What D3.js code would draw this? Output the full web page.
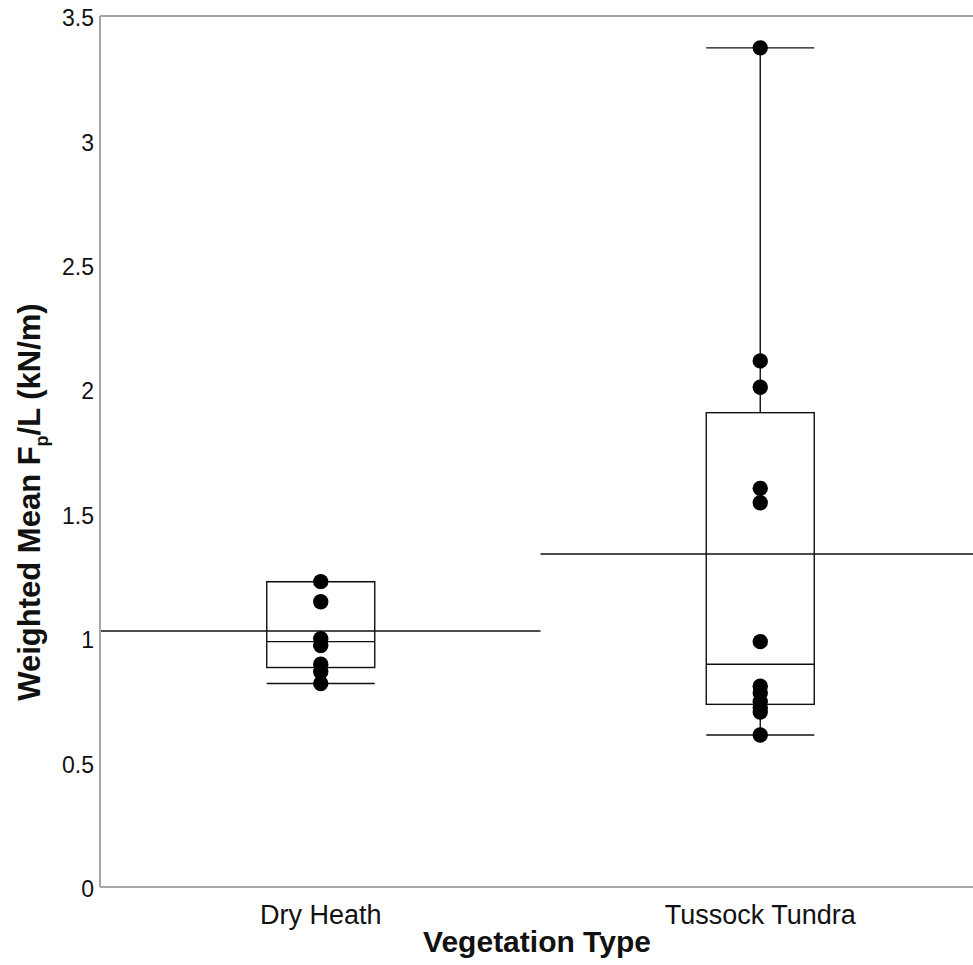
<!DOCTYPE html>
<html>
<head>
<meta charset="utf-8">
<script src="https://cdn.jsdelivr.net/npm/d3@7"></script>
<style>
  body { margin: 0; background: #fff; }
  svg { display: block; font-family: "Liberation Sans", Arial, Helvetica, sans-serif; }
</style>
</head>
<body>
<svg id="canvas" width="973" height="965"></svg>
<script>
// values
let categories = ["Dry Heath", "Tussock Tundra"]
let dryHeathPoints = [1.227, 1.146, 0.998, 0.970, 0.895, 0.865, 0.818]
let tussockPoints = [3.372, 2.114, 2.008, 1.602, 1.544, 0.986, 0.807, 0.780, 0.745, 0.720, 0.703, 0.611]
// box stats per category: [lower whisker, q1, median, q3, upper whisker]
let boxStats = [
    [0.818, 0.882, 0.986, 1.227, 1.227],
    [0.611, 0.734, 0.895, 1.906, 3.372]
]
let groupMeans = [1.029, 1.338]
let yTicks = [0, 0.5, 1, 1.5, 2, 2.5, 3, 3.5]

let canvas = d3.select("#canvas")

let plotLeft = 101, plotRight = 980, plotTop = 16, plotBottom = 887
let boxW = 108

let x = d3.scaleBand().domain(categories).range([plotLeft, plotRight]).padding(0)
let y = d3.scaleLinear().domain([0, 3.5]).range([plotBottom, plotTop])

let groups = categories.map((c, i) => ({
    name: c,
    points: i == 0 ? dryHeathPoints : tussockPoints,
    stats: boxStats[i],
    mean: groupMeans[i]
}))

// frame: left, bottom and top lines in grey
let frame = canvas.append("g").attr("stroke", "#a6a6a6").attr("stroke-width", 2)
frame.append("line").attr("x1", plotLeft - 1).attr("x2", plotLeft - 1).attr("y1", plotTop).attr("y2", plotBottom)
frame.append("line").attr("x1", plotLeft - 1).attr("x2", plotRight).attr("y1", plotBottom).attr("y2", plotBottom)
frame.append("line").attr("x1", plotLeft - 1).attr("x2", plotRight).attr("y1", plotTop).attr("y2", plotTop)

// y axis labels
let yAxis = canvas.append("g")
    .attr("transform", "translate(" + (plotLeft - 1) + ",0)")
    .call(d3.axisLeft(y).tickValues(yTicks).tickFormat(d3.format("~g")).tickSize(0).tickPadding(6))
yAxis.select(".domain").remove()
yAxis.selectAll("text")
    .attr("font-size", 23)
    .attr("font-family", null)
    .attr("fill", "#111")
    .attr("dy", "0.42em")

// x axis labels
let xAxis = canvas.append("g")
    .attr("transform", "translate(0," + plotBottom + ")")
    .call(d3.axisBottom(x).tickSize(0).tickPadding(18))
xAxis.select(".domain").remove()
xAxis.selectAll("text")
    .attr("font-size", 27)
    .attr("font-family", null)
    .attr("fill", "#111")

let block = canvas.selectAll(".grp")
    .data(groups)
    .enter()
    .append("g")
    .attr("class", "grp")

let cx = g => x(g.name) + x.bandwidth() / 2

// mean line across the whole band
block.append("line")
    .attr("x1", g => x(g.name))
    .attr("x2", g => x(g.name) + x.bandwidth())
    .attr("y1", g => y(g.mean))
    .attr("y2", g => y(g.mean))
    .attr("stroke", "#111").attr("stroke-width", 1.4)

// whiskers
block.append("line")
    .attr("x1", cx).attr("x2", cx)
    .attr("y1", g => y(g.stats[3])).attr("y2", g => y(g.stats[4]))
    .attr("stroke", "#111").attr("stroke-width", 1.4)
block.append("line")
    .attr("x1", cx).attr("x2", cx)
    .attr("y1", g => y(g.stats[0])).attr("y2", g => y(g.stats[1]))
    .attr("stroke", "#111").attr("stroke-width", 1.4)

// caps
block.selectAll(".cap")
    .data(g => [g.stats[0], g.stats[4]].map(v => ({ c: cx(g), v: v })))
    .enter()
    .append("line")
    .attr("x1", d => d.c - boxW / 2).attr("x2", d => d.c + boxW / 2)
    .attr("y1", d => y(d.v)).attr("y2", d => y(d.v))
    .attr("stroke", "#111").attr("stroke-width", 1.4)

// box
block.append("rect")
    .attr("x", g => cx(g) - boxW / 2)
    .attr("width", boxW)
    .attr("y", g => y(g.stats[3]))
    .attr("height", g => y(g.stats[1]) - y(g.stats[3]))
    .attr("fill", "none")
    .attr("stroke", "#111").attr("stroke-width", 1.4)

// median
block.append("line")
    .attr("x1", g => cx(g) - boxW / 2).attr("x2", g => cx(g) + boxW / 2)
    .attr("y1", g => y(g.stats[2])).attr("y2", g => y(g.stats[2]))
    .attr("stroke", "#111").attr("stroke-width", 1.4)

// points
block.selectAll("circle")
    .data(g => g.points.map(v => ({ c: cx(g), v: v })))
    .enter()
    .append("circle")
    .attr("cx", d => d.c)
    .attr("cy", d => y(d.v))
    .attr("r", 7.7)
    .attr("fill", "#000")

// axis titles
canvas.append("text")
    .attr("x", 537).attr("y", 952)
    .attr("text-anchor", "middle")
    .attr("font-size", 30).attr("font-weight", "bold")
    .attr("fill", "#111")
    .text("Vegetation Type")

let yTitle = canvas.append("text")
    .attr("transform", "translate(40,502) rotate(-90)")
    .attr("text-anchor", "middle")
    .attr("font-size", 31).attr("font-weight", "bold")
    .attr("fill", "#111")
yTitle.append("tspan").text("Weighted Mean F")
yTitle.append("tspan").attr("font-size", 18).attr("dy", 8).text("p")
yTitle.append("tspan").attr("dy", -8).text("/L (kN/m)")
</script>
</body>
</html>
